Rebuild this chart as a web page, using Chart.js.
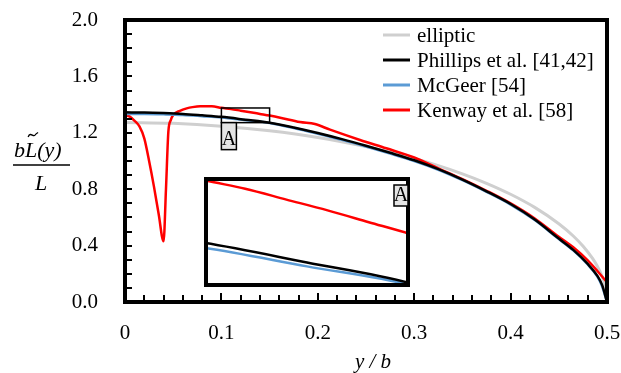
<!DOCTYPE html>
<html>
<head>
<meta charset="utf-8">
<script src="https://cdn.jsdelivr.net/npm/chart.js@4"></script>
<style>
    body { margin: 0; background: #fff; }
    #wrap { position: relative; width: 621px; height: 373px; }
    #inset { position: absolute; left: 204px; top: 177px; background: #fff; }
</style>
</head>
<body>
<div id="wrap">
    <canvas id="main" width="621" height="373"></canvas>
    <canvas id="inset" width="206" height="110"></canvas>
</div>
<script>
// values (spanwise position y/b, lift b*L(y)/L)
const ellipticX = [0, 0.05, 0.1, 0.15, 0.2, 0.25, 0.275, 0.3, 0.325, 0.35, 0.375, 0.4, 0.425, 0.45, 0.465, 0.475, 0.485, 0.49, 0.495, 0.498, 0.5];
const ellipticY = [1.273, 1.267, 1.247, 1.214, 1.167, 1.102, 1.063, 1.018, 0.967, 0.909, 0.842, 0.764, 0.671, 0.555, 0.468, 0.397, 0.309, 0.253, 0.18, 0.114, 0];

const phillipsX = [0, 0.02, 0.04, 0.06, 0.08, 0.1, 0.125, 0.15, 0.175, 0.2, 0.225, 0.25, 0.275, 0.3, 0.325, 0.35, 0.375, 0.4, 0.425, 0.45, 0.465, 0.48, 0.49, 0.495, 0.5];
const phillipsY = [1.345, 1.344, 1.340, 1.334, 1.324, 1.313, 1.293, 1.272, 1.238, 1.198, 1.155, 1.108, 1.058, 1.005, 0.942, 0.868, 0.785, 0.695, 0.585, 0.45, 0.37, 0.27, 0.185, 0.12, 0];

const mcgeerX = phillipsX;
const mcgeerY = [1.333, 1.333, 1.331, 1.327, 1.318, 1.308, 1.289, 1.270, 1.234, 1.193, 1.150, 1.103, 1.053, 1.000, 0.938, 0.864, 0.781, 0.691, 0.581, 0.446, 0.366, 0.266, 0.18, 0.11, 0];

const kenwayX = [0, 0.005, 0.01, 0.015, 0.02, 0.025, 0.03, 0.035, 0.04, 0.0425, 0.045, 0.0475, 0.05, 0.057, 0.064, 0.07, 0.078, 0.09, 0.1, 0.11, 0.12, 0.13, 0.14, 0.15, 0.161, 0.1815, 0.197, 0.2127, 0.2438, 0.271, 0.3, 0.325, 0.35, 0.375, 0.4, 0.425, 0.45, 0.465, 0.48, 0.49, 0.5];
const kenwayY = [1.326, 1.315, 1.285, 1.245, 1.16, 1.0, 0.82, 0.62, 0.43, 0.80, 1.21, 1.29, 1.326, 1.356, 1.373, 1.382, 1.388, 1.388, 1.377, 1.368, 1.357, 1.346, 1.334, 1.322, 1.307, 1.276, 1.262, 1.222, 1.149, 1.09, 1.025, 0.948, 0.872, 0.789, 0.699, 0.592, 0.462, 0.388, 0.295, 0.22, 0.14];

const seriesNames = ["elliptic", "Phillips et al. [41,42]", "McGeer [54]", "Kenway et al. [58]"];
const seriesColors = ["#cfcfcf", "#000000", "#5b9bd5", "#ff0000"];

// zoom window "A"
const zoomX = [0.1, 0.15];
const zoomY = [1.272, 1.376];

const serif = "'Liberation Serif', 'Times New Roman', serif";

function points(xs, ys) {
    return xs.map((x, i) => ({ x: x, y: ys[i] }));
}

function makeDatasets(width) {
    const all = [[ellipticX, ellipticY], [phillipsX, phillipsY], [mcgeerX, mcgeerY], [kenwayX, kenwayY]];
    const drawOrder = [4, 1, 2, 3]; // black on top, grey at the back
    return all.map((s, i) => ({
        label: seriesNames[i],
        data: points(s[0], s[1]),
        borderColor: seriesColors[i],
        borderWidth: i == 0 ? 3 : width,
        pointRadius: 0,
        fill: false,
        cubicInterpolationMode: "monotone",
        order: drawOrder[i]
    }));
}

// no label overhang padding, the layout padding alone sets the plot box
function fixedBox(s, size) {
    if (s.isHorizontal()) s.height = size; else s.width = size;
    s.paddingLeft = 0;
    s.paddingRight = 0;
    s.paddingTop = 0;
    s.paddingBottom = 0;
}

function letterBox(ctx, x, y, w, h) {
    ctx.fillStyle = "#e4e4e4";
    ctx.fillRect(x, y, w, h);
    ctx.strokeStyle = "#000";
    ctx.lineWidth = 1.5;
    ctx.strokeRect(x, y, w, h);
    ctx.fillStyle = "#000";
    ctx.font = "20px " + serif;
    ctx.textAlign = "center";
    ctx.textBaseline = "alphabetic";
    ctx.fillText("A", x + w / 2, y + h - 5);
}

const mainDecor = {
    id: "mainDecor",
    afterDraw(chart) {
        const ctx = chart.ctx;
        const a = chart.chartArea;
        const xs = chart.scales.x;
        const ys = chart.scales.y;
        ctx.save();

        // inward ticks
        ctx.strokeStyle = "#000";
        ctx.lineWidth = 2;
        for (let i = 1; i < 25; i++) {
            const px = Math.round(xs.getPixelForValue(i * 0.02));
            const len = i % 5 == 0 ? 9 : 7;
            ctx.beginPath();
            ctx.moveTo(px, a.bottom);
            ctx.lineTo(px, a.bottom - len);
            ctx.stroke();
        }
        for (let i = 1; i < 20; i++) {
            const py = Math.round(ys.getPixelForValue(i * 0.1));
            ctx.beginPath();
            ctx.moveTo(a.left, py);
            ctx.lineTo(a.left + 7, py);
            ctx.stroke();
        }

        // frame
        ctx.lineWidth = 4;
        ctx.strokeRect(a.left, a.top, a.right - a.left, a.bottom - a.top);

        // zoom window A
        const bx = xs.getPixelForValue(zoomX[0]);
        const by = ys.getPixelForValue(zoomY[1]);
        const bw = xs.getPixelForValue(zoomX[1]) - bx;
        const bh = ys.getPixelForValue(zoomY[0]) - by;
        ctx.lineWidth = 1.5;
        ctx.strokeRect(bx, by, bw, bh);
        letterBox(ctx, bx, by + bh, 15, 27);

        // legend
        ctx.font = "21px " + serif;
        ctx.textAlign = "left";
        ctx.textBaseline = "middle";
        seriesNames.forEach((name, i) => {
            const y = 35 + i * 25;
            ctx.strokeStyle = seriesColors[i];
            ctx.lineWidth = 3;
            ctx.beginPath();
            ctx.moveTo(383, y);
            ctx.lineTo(410, y);
            ctx.stroke();
            ctx.fillStyle = "#000";
            ctx.fillText(name, 417, y + 1);
        });

        // y axis title: bL~(y) / L
        ctx.fillStyle = "#000";
        ctx.strokeStyle = "#000";
        ctx.textBaseline = "alphabetic";
        ctx.font = "italic 22px " + serif;
        ctx.fillText("bL(y)", 14, 157);
        const wb = ctx.measureText("b").width;
        const wl = ctx.measureText("L").width;
        const tx = 14 + wb + wl / 2 + 2;
        ctx.lineWidth = 1.3;
        ctx.beginPath();
        ctx.moveTo(tx - 5, 137);
        ctx.bezierCurveTo(tx - 2.5, 131, tx + 0, 138, tx + 2, 135);
        ctx.bezierCurveTo(tx + 3, 133.5, tx + 4, 133, tx + 5, 132.5);
        ctx.stroke();
        ctx.lineWidth = 1.5;
        ctx.beginPath();
        ctx.moveTo(13, 165);
        ctx.lineTo(70, 165);
        ctx.stroke();
        ctx.textAlign = "center";
        ctx.fillText("L", 41, 190);

        // x axis title
        ctx.font = "italic 21px " + serif;
        ctx.fillText("y / b", 373, 368);
        ctx.restore();
    }
};

new Chart(document.getElementById("main"), {
    type: "line",
    data: { datasets: makeDatasets(2.5) },
    options: {
        responsive: false,
        animation: false,
        layout: { padding: { left: 0, top: 20, right: 14, bottom: 0 } },
        plugins: { legend: { display: false }, tooltip: { enabled: false } },
        scales: {
            x: {
                type: "linear",
                min: 0,
                max: 0.5,
                grid: { display: false },
                border: { display: false },
                afterFit: s => fixedBox(s, 71),
                ticks: {
                    stepSize: 0.1,
                    padding: 11,
                    maxRotation: 0,
                    color: "#000",
                    font: { family: serif, size: 21 },
                    callback: v => v == 0 ? "0" : v.toFixed(1)
                }
            },
            y: {
                min: 0,
                max: 2,
                grid: { display: false },
                border: { display: false },
                afterFit: s => fixedBox(s, 125),
                ticks: {
                    stepSize: 0.4,
                    padding: 19,
                    color: "#000",
                    font: { family: serif, size: 21 },
                    callback: v => v.toFixed(1)
                }
            }
        }
    },
    plugins: [mainDecor]
});

const insetDecor = {
    id: "insetDecor",
    afterDraw(chart) {
        const ctx = chart.ctx;
        const w = chart.width, h = chart.height;
        ctx.save();
        ctx.strokeStyle = "#000";
        ctx.lineWidth = 4;
        ctx.strokeRect(2, 2, w - 4, h - 4);
        letterBox(ctx, w - 16, 8, 14, 21);
        ctx.restore();
    }
};

new Chart(document.getElementById("inset"), {
    type: "line",
    data: { datasets: makeDatasets(2.5) },
    options: {
        responsive: false,
        animation: false,
        layout: { padding: 0 },
        plugins: { legend: { display: false }, tooltip: { enabled: false } },
        scales: {
            x: { type: "linear", min: zoomX[0], max: zoomX[1], display: false },
            y: { min: 1.268, max: 1.38, display: false }
        }
    },
    plugins: [insetDecor]
});
</script>
</body>
</html>
